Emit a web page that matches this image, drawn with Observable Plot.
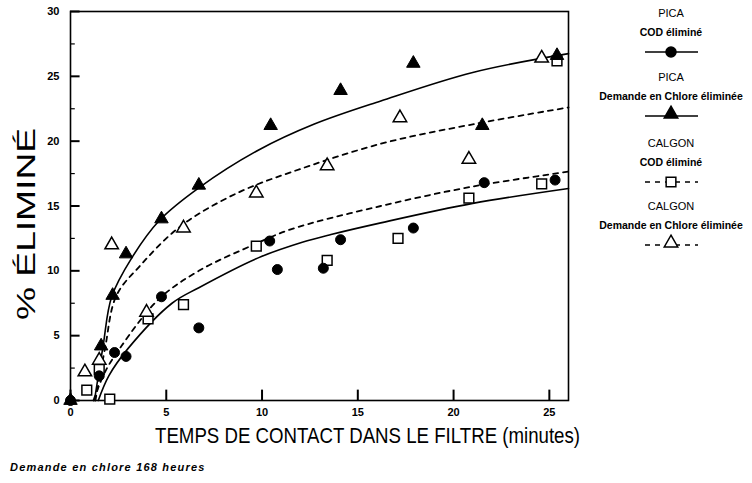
<!DOCTYPE html>
<html><head><meta charset="utf-8">
<script src="https://cdn.jsdelivr.net/npm/d3@7"></script>
<script src="https://cdn.jsdelivr.net/npm/@observablehq/plot@0.6"></script>
<style>
body{margin:0;background:#fff;}
#wrap{position:relative;width:752px;height:483px;font-family:"Liberation Sans",Arial,sans-serif;background:#fff;}
#caption{position:absolute;left:10px;top:461px;font:italic bold 11px "Liberation Sans",Arial,sans-serif;letter-spacing:1.2px;color:#000;}
#legend{position:absolute;left:592px;top:0;}
</style></head><body><div id="wrap"><div id="caption"></div></div>
<script>
// ---- tick labels ----
const xTicks = [0, 5, 10, 15, 20, 25];
const yTicks = [0, 5, 10, 15, 20, 25, 30];
const yMinorTicks = [2.5, 7.5, 12.5, 17.5, 22.5, 27.5];

// ---- measured points [minutes, %] ----
const picaCOD = [[0,0],[1.5,1.9],[2.3,3.7],[2.9,3.4],[4.75,8.0],[6.7,5.6],[10.4,12.3],[10.8,10.1],[13.2,10.2],[14.1,12.4],[17.9,13.3],[21.6,16.8],[25.3,17.0]];
const picaChlore = [[0,0],[1.6,4.2],[2.2,8.1],[2.9,11.3],[4.75,14.0],[6.7,16.6],[10.45,21.2],[14.1,23.9],[17.9,26.0],[21.5,21.2],[25.4,26.6]];
const calgonCOD = [[0.85,0.8],[1.5,2.4],[2.05,0.1],[4.05,6.3],[5.9,7.4],[9.7,11.9],[13.4,10.8],[17.1,12.5],[20.8,15.6],[24.6,16.7],[25.4,26.2]];
const calgonChlore = [[0.75,2.2],[1.5,3.1],[2.15,12.0],[3.97,6.8],[5.9,13.3],[9.7,16.0],[13.4,18.1],[17.2,21.8],[20.8,18.6],[24.6,26.4]];

// ---- fitted curves ----
const picaCODCurve = [[1.45,0],[2.0,1.9],[3.0,4.0],[5.3,7.5],[6.7,8.7],[9.8,11.0],[12.1,12.2],[13.6,12.8],[16.2,13.7],[21,15.2],[26,16.35]];
const picaChloreCurve = [[1.25,0],[1.7,4.2],[2.15,8.0],[3.2,11.0],[4.65,13.9],[6.7,16.4],[9.8,19.3],[12.7,21.3],[16.2,23.1],[21,25.3],[26,26.75]];
const calgonCODCurve = [[1.2,0],[1.8,2.2],[2.66,4.2],[4.6,7.8],[6.7,10.0],[9.7,12.1],[11.5,13.2],[16.2,15.0],[21,16.5],[26,17.65]];
const calgonChloreCurve = [[1.3,0],[1.8,4.0],[2.4,8.1],[3.7,10.5],[5.3,12.9],[6.7,14.4],[9.0,16.2],[11.5,17.6],[16.2,19.8],[21,21.3],[26,22.6]];

// ---- texts ----
const xLabel = "TEMPS DE CONTACT DANS LE FILTRE (minutes)";
const yLabel = "% ÉLIMINÉ";
const caption = "Demande en chlore 168 heures";
const legendTitles = ["PICA", "PICA", "CALGON", "CALGON"];
const legendDescs = ["COD éliminé", "Demande en Chlore éliminée", "COD éliminé", "Demande en Chlore éliminée"];
const legendSymbols = ["circle", "triangle", "square", "triangle"];
const legendFilled = [true, true, false, false];
const legendDashed = [false, false, true, true];

const lineStyle = {x: d => d[0], y: d => d[1], stroke: "black", strokeWidth: 1.6, curve: "catmull-rom"};
const dash = "5,5";
const filled = {x: d => d[0], y: d => d[1], fill: "black", stroke: "black", strokeWidth: 1};
const open = {x: d => d[0], y: d => d[1], fill: "white", stroke: "black", strokeWidth: 1.5};

const plot = Plot.plot({
  width: 752, height: 455,
  marginLeft: 70, marginRight: 184, marginTop: 11, marginBottom: 55,
  x: {domain: [0, 26]},
  y: {domain: [0, 30]},
  style: {fontFamily: "Liberation Sans, Arial, sans-serif", fontSize: "11px", fontWeight: "bold", color: "black", background: "white"},
  marks: [
    Plot.axisX({ticks: xTicks, tickSize: 0, tickPadding: 8, label: null, fontWeight: "bold"}),
    Plot.axisY({ticks: yTicks, tickSize: 0, tickPadding: 11, label: null, fontWeight: "bold"}),
    Plot.frame({stroke: "black", strokeWidth: 1.6}),
    Plot.ruleX(xTicks, {x: d => d, y1: () => 0, y2: () => 0.8, stroke: "black", strokeWidth: 2}),
    Plot.ruleY(yTicks, {y: d => d, x1: () => 0, x2: () => 0.5, stroke: "black", strokeWidth: 2}),
    Plot.ruleY(yMinorTicks, {y: d => d, x1: () => 0, x2: () => 0.25, stroke: "black", strokeWidth: 1.2}),
    Plot.line(picaChloreCurve, lineStyle),
    Plot.line(picaCODCurve, lineStyle),
    Plot.line(calgonChloreCurve, {...lineStyle, strokeDasharray: dash, strokeWidth: 1.8}),
    Plot.line(calgonCODCurve, {...lineStyle, strokeDasharray: dash, strokeWidth: 1.8}),
    Plot.dot(calgonCOD, {...open, symbol: "square", r: 5.5}),
    Plot.dot(calgonChlore, {...open, symbol: "triangle", r: 5}),
    Plot.dot(picaCOD, {...filled, symbol: "circle", r: 5}),
    Plot.dot(picaChlore, {...filled, symbol: "triangle", r: 5}),
    Plot.text([xLabel], {text: d => d, frameAnchor: "bottom", textAnchor: "middle", dx: 48, dy: 42, fontSize: 22, fontWeight: "normal"}),
    Plot.text([yLabel], {text: d => d, frameAnchor: "left", textAnchor: "middle", rotate: -90, dx: -44, dy: 18, fontSize: 26, fontWeight: "normal"})
  ]
});
const wrap = document.getElementById("wrap");
wrap.insertBefore(plot, wrap.firstChild);
d3.select(plot).selectAll("text").filter(function() { return this.textContent === xLabel; })
  .attr("textLength", 425).attr("lengthAdjust", "spacingAndGlyphs");
d3.select(plot).selectAll("text").filter(function() { return this.textContent === yLabel; })
  .attr("textLength", 192).attr("lengthAdjust", "spacingAndGlyphs");
document.getElementById("caption").textContent = caption;

// ---- legend ----
const lg = d3.select(wrap).append("svg").attr("id", "legend").attr("width", 160).attr("height", 260)
  .style("font-family", "Liberation Sans, Arial, sans-serif");
const cx = 79;
const blockTop = [0, 64, 130, 193];
legendTitles.forEach((t, i) => {
  const g = lg.append("g").attr("transform", `translate(0,${blockTop[i]})`);
  g.append("text").attr("x", cx).attr("y", 17).attr("text-anchor", "middle").attr("font-size", 11).text(t);
  g.append("text").attr("x", cx).attr("y", 36).attr("text-anchor", "middle").attr("font-size", 10.5).attr("font-weight", "bold").text(legendDescs[i]);
  g.append("line").attr("x1", 53).attr("x2", 106).attr("y1", 52).attr("y2", 52).attr("stroke", "black")
    .attr("stroke-width", 1.6).attr("stroke-dasharray", legendDashed[i] ? "5,5" : null);
  const sym = {circle: d3.symbolCircle, triangle: d3.symbolTriangle, square: d3.symbolSquare}[legendSymbols[i]];
  g.append("path").attr("d", d3.symbol(sym, Math.PI * (legendSymbols[i] === "square" ? 30 : 25))())
    .attr("transform", `translate(${cx},${legendSymbols[i] === "triangle" ? 50 : 52})`)
    .attr("fill", legendFilled[i] ? "black" : "white").attr("stroke", "black").attr("stroke-width", 1.5);
});
</script></body></html>
